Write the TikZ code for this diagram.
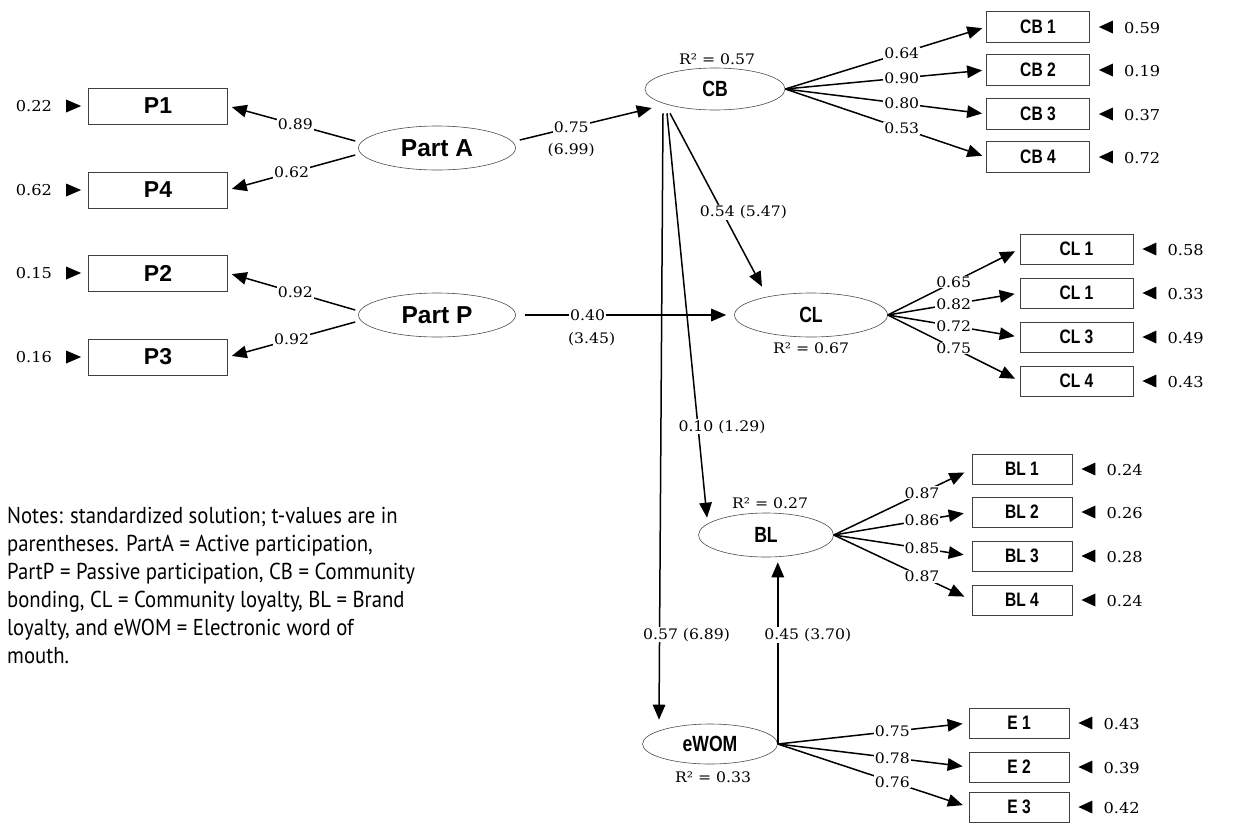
\documentclass[tikz,border=0pt]{standalone}
\usepackage{fontspec}
\usetikzlibrary{shapes.geometric,arrows.meta,calc}
\newfontfamily\numf[FakeStretch=1.08]{DejaVu Serif}
\newfontfamily\boxff[FakeStretch=0.8]{Liberation Sans}
\newfontfamily\pf{Liberation Sans}
\newfontfamily\notef[FakeStretch=0.9]{PT Sans}
\begin{document}
\begin{tikzpicture}[x=1pt,y=-1pt,
  ind/.style={draw=black!75, line width=0.8pt, inner sep=0pt, minimum height=30pt,
    font=\boxff\bfseries\fontsize{19.5}{22}\selectfont},
  pbox/.style={ind, minimum width=139pt, minimum height=36pt,
    font=\pf\bfseries\fontsize{23}{26}\selectfont},
  lat/.style={ellipse, draw=black!70, line width=0.6pt, inner sep=0pt, minimum height=44pt,
    font=\boxff\bfseries\fontsize{22}{24}\selectfont},
  patlat/.style={lat, minimum width=157pt, font=\pf\bfseries\fontsize{24.5}{27}\selectfont},
  arr/.style={line width=1.5pt, -{Triangle[length=15pt,width=12.5pt]}},
  num/.style={font=\numf\fontsize{14.5}{16}\selectfont, inner sep=1pt},
  lbl/.style={num, fill=white},
  errtxt/.style={num, font=\numf\fontsize{15}{17}\selectfont},
]
\useasboundingbox (0,0) rectangle (1234,823);

% ---------- indicator boxes, left ----------
\node[pbox] (p1) at (158,106) {P1};
\node[pbox] (p4) at (158,190) {P4};
\node[pbox] (p2) at (158,273) {P2};
\node[pbox] (p3) at (158,357) {P3};

% ---------- latent variables ----------
\node[patlat] (pa) at (437,148) {Part A};
\node[patlat] (pp) at (437,315) {Part P};
\node[lat, minimum width=140pt, minimum height=42pt] (cb) at (715,89) {CB};
\node[lat, minimum width=153pt] (cl) at (811,315) {CL};
\node[lat, minimum width=135pt] (bl) at (766,535) {BL};
\node[lat, minimum width=135pt, minimum height=40pt] (ew) at (710,744) {eWOM};

% R^2 labels
\node[num] (rcb) at (717,59) {R² = 0.57};
\node[num] (rcl) at (811,348) {R² = 0.67};
\node[num] (rbl) at (770,503) {R² = 0.27};
\node[num] (rew) at (713,777) {R² = 0.33};

% ---------- indicator boxes, right ----------
\foreach \n/\t/\y in {cb1/CB 1/27, cb2/CB 2/70, cb3/CB 3/114, cb4/CB 4/157}
  \node[ind, minimum width=103pt, minimum height=31pt] (\n) at (1038,\y) {\t};
\foreach \n/\t/\y in {cl1/CL 1/249, cl2/CL 1/293, cl3/CL 3/337, cl4/CL 4/381}
  \node[ind, minimum width=113pt] (\n) at (1076.5,\y) {\t};
\foreach \n/\t/\y in {bl1/BL 1/469, bl2/BL 2/512, bl3/BL 3/556, bl4/BL 4/600}
  \node[ind, minimum width=100pt] (\n) at (1022,\y) {\t};
\foreach \n/\t/\y in {e1/E 1/723, e2/E 2/767, e3/E 3/807}
  \node[ind, minimum width=100pt] (\n) at (1019,\y) {\t};

% ---------- error terms, left ----------
\foreach \n/\v in {p1/0.22, p4/0.62, p2/0.15, p3/0.16}{
  \node[errtxt, anchor=east] (err\n) at ($(\n.west)+(-35,0)$) {\v};
  \fill ($(\n.west)+(-7,0)$) -- ++(-15,-6.5) -- ++(0,13) -- cycle;
}
% ---------- error terms, right ----------
\foreach \n/\v in {cb1/0.59, cb2/0.19, cb3/0.37, cb4/0.72,
                   cl1/0.58, cl2/0.33, cl3/0.49, cl4/0.43,
                   bl1/0.24, bl2/0.26, bl3/0.28, bl4/0.24,
                   e1/0.43, e2/0.39, e3/0.42}{
  \fill ($(\n.east)+(9,0)$) -- ++(14,-6.5) -- ++(0,13) -- cycle;
  \node[errtxt, anchor=west] (err\n) at ($(\n.east)+(33,1)$) {\v};
}

% ---------- Part A / Part P loadings ----------
\draw[arr, shorten >=4pt] ($(pa.west)+(-3,-7)$) -- node[lbl, pos=0.47] {0.89} (p1.east);
\draw[arr, shorten >=4pt] ($(pa.west)+(-3,7)$) -- node[lbl, pos=0.5] {0.62} (p4.east);
\draw[arr, shorten >=4pt] ($(pp.west)+(-3,-5)$) -- node[lbl, pos=0.47] {0.92} (p2.east);
\draw[arr, shorten >=4pt] ($(pp.west)+(-3,7)$) -- node[lbl, pos=0.5] {0.92} (p3.east);

% ---------- structural paths ----------
\draw[arr] ($(pa.east)+(4,-8)$) -- node[lbl, pos=0.39] (l75) {0.75} ($(cb.west)+(7,19)$);
\node[num] at ($(l75)+(0,23)$) {(6.99)};

\draw[arr, shorten >=8pt] ($(pp.east)+(9,0)$) -- node[lbl, pos=0.3] (l40) {0.40} (cl.west);
\node[num] at ($(l40)+(4,24)$) {(3.45)};

\draw[arr] ($(cb.south)+(-45,3)$) -- node[lbl, pos=0.57, xshift=21pt] {0.54 (5.47)} ($(cl.north)+(-49,-6)$);
\draw[arr] ($(cb.south)+(-48,3)$) -- node[lbl, pos=0.775, xshift=24pt] {0.10 (1.29)} ($(bl.north)+(-59,5)$);
\draw[arr] ($(cb.south)+(-52,3)$) -- node[lbl, pos=0.86, xshift=27pt] {0.57 (6.89)} ($(ew.north)+(-51,-4)$);
\draw[arr] (ew.east) -- node[lbl, pos=0.6, xshift=30pt] {0.45 (3.70)} ($(ew.east |- bl.south)+(0,5)$);

% ---------- CB loadings ----------
\foreach \n/\v in {cb1/0.64, cb2/0.90, cb3/0.80, cb4/0.53}
  \draw[arr, shorten >=4pt] (cb.east) -- node[lbl, pos=0.58] {\v} (\n.west);
% ---------- CL loadings ----------
\foreach \n/\v in {cl1/0.65, cl2/0.82, cl3/0.72, cl4/0.75}
  \draw[arr, shorten >=5pt] (cl.east) -- node[lbl, pos=0.5] {\v} (\n.west);
% ---------- BL loadings ----------
\foreach \n/\v in {bl1/0.87, bl2/0.86, bl3/0.85, bl4/0.87}
  \draw[arr, shorten >=8pt] (bl.east) -- node[lbl, pos=0.64] {\v} (\n.west);
% ---------- eWOM loadings ----------
\foreach \n/\v in {e1/0.75, e2/0.78, e3/0.76}
  \draw[arr, shorten >=6pt] (ew.east) -- node[lbl, pos=0.6] {\v} (\n.west);

% ---------- notes ----------
\node[anchor=north west, align=left, inner sep=0pt,
      font=\notef\fontsize{23}{28}\selectfont] (notes) at (7,507)
  {Notes: standardized solution; t-values are in\\
   parentheses. PartA = Active participation,\\
   PartP = Passive participation, CB = Community\\
   bonding, CL = Community loyalty, BL = Brand\\
   loyalty, and eWOM = Electronic word of\\
   mouth.};
\end{tikzpicture}
\end{document}
